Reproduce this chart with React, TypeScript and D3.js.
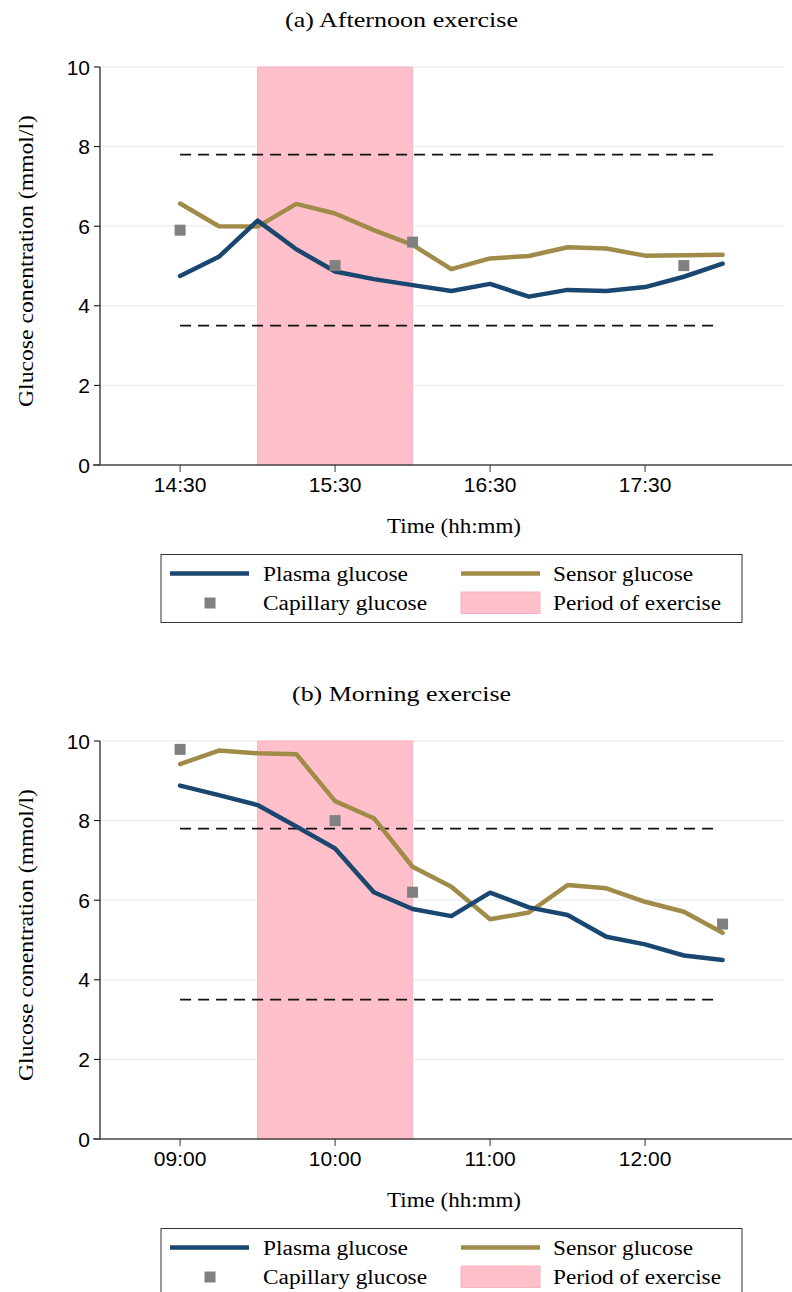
import React from "react";
import * as d3 from "d3";

// Axis ticks and target range (mmol/l)
const yTicks = [0, 2, 4, 6, 8, 10];
const targetLow = 3.5;
const targetHigh = 7.8;

// (a) Afternoon exercise
const afternoonTimes = ["14:30", "14:45", "15:00", "15:15", "15:30", "15:45", "16:00", "16:15", "16:30", "16:45", "17:00", "17:15", "17:30", "17:45", "18:00"];
const afternoonPlasma = [4.75, 5.23, 6.14, 5.42, 4.86, 4.67, 4.52, 4.37, 4.55, 4.23, 4.4, 4.37, 4.47, 4.73, 5.06];
const afternoonSensor = [6.57, 6.0, 5.99, 6.56, 6.32, 5.9, 5.53, 4.92, 5.19, 5.25, 5.47, 5.44, 5.26, 5.27, 5.28];
const afternoonCapTimes = ["14:30", "15:30", "16:00", "17:45"];
const afternoonCapillary = [5.9, 5.01, 5.6, 5.01];
const afternoonExercise = ["15:00", "16:00"];
const afternoonTickLabels = ["14:30", "15:30", "16:30", "17:30"];

// (b) Morning exercise
const morningTimes = ["09:00", "09:15", "09:30", "09:45", "10:00", "10:15", "10:30", "10:45", "11:00", "11:15", "11:30", "11:45", "12:00", "12:15", "12:30"];
const morningPlasma = [8.88, 8.64, 8.39, 7.85, 7.3, 6.2, 5.78, 5.6, 6.19, 5.82, 5.63, 5.08, 4.89, 4.61, 4.5];
const morningSensor = [9.42, 9.76, 9.69, 9.67, 8.49, 8.06, 6.84, 6.34, 5.52, 5.69, 6.38, 6.3, 5.96, 5.71, 5.18];
const morningCapTimes = ["09:00", "10:00", "10:30", "12:30"];
const morningCapillary = [9.79, 8.0, 6.2, 5.4];
const morningExercise = ["09:30", "10:30"];
const morningTickLabels = ["09:00", "10:00", "11:00", "12:00"];

const PLASMA = "#1a476f";
const SENSOR = "#a08b48";
const CAPILLARY = "#808080";
const EXERCISE = "#ffc0cb";
const EXERCISE_EDGE = "#f7b3bf";
const GRID = "#e9eff2";
const SERIF = "'Liberation Serif', 'Times New Roman', serif";
const SANS = "'Liberation Sans', Arial, sans-serif";

const toMinutes = (s: string) => {
  const [h, m] = s.split(":").map(Number);
  return h * 60 + m;
};

// plot frame
const left = 100;
const right = 792;
const top = 67;
const bottom = 465;
const pxPerMinute = 155 / 60;

type PanelProps = {
  offsetY: number;
  title: string;
  titleWidth: number;
  times: string[];
  plasma: number[];
  sensor: number[];
  capTimes: string[];
  capillary: number[];
  exercise: string[];
  tickLabels: string[];
};

function Legend({ y }: { y: number }) {
  return (
    <g transform={`translate(0,${y})`}>
      <rect x={161} y={554.5} width={581} height={68} fill="#fff" stroke="#333" strokeWidth={1} />
      <line x1={170} x2={249} y1={573.5} y2={573.5} stroke={PLASMA} strokeWidth={4.5} />
      <text x={263} y={581} fontFamily={SERIF} fontSize={20.5} textLength={145} lengthAdjust="spacingAndGlyphs">Plasma glucose</text>
      <line x1={461} x2={540} y1={573.5} y2={573.5} stroke={SENSOR} strokeWidth={4.5} />
      <text x={553} y={581} fontFamily={SERIF} fontSize={20.5} textLength={140} lengthAdjust="spacingAndGlyphs">Sensor glucose</text>
      <rect x={204.5} y={597.5} width={11} height={11} fill={CAPILLARY} />
      <text x={263} y={610} fontFamily={SERIF} fontSize={20.5} textLength={164} lengthAdjust="spacingAndGlyphs">Capillary glucose</text>
      <rect x={461} y={592} width={79} height={21.5} fill={EXERCISE} stroke={EXERCISE_EDGE} strokeWidth={1} />
      <text x={553} y={610} fontFamily={SERIF} fontSize={20.5} textLength={168} lengthAdjust="spacingAndGlyphs">Period of exercise</text>
    </g>
  );
}

function Panel(p: PanelProps) {
  const t0 = toMinutes(p.tickLabels[0]) - 31;
  const x = d3.scaleLinear().domain([t0, t0 + (right - left) / pxPerMinute]).range([left, right]);
  const y = d3.scaleLinear().domain([0, 10]).range([bottom, top]);
  const line = d3
    .line<[string, number]>()
    .x((d) => x(toMinutes(d[0])))
    .y((d) => y(d[1]));
  const plasmaPath = line(p.times.map((t, i) => [t, p.plasma[i]]));
  const sensorPath = line(p.times.map((t, i) => [t, p.sensor[i]]));
  const xFirst = x(toMinutes(p.times[0]));
  const xLast = x(toMinutes(p.times[p.times.length - 1]));
  const ex0 = x(toMinutes(p.exercise[0]));
  const ex1 = x(toMinutes(p.exercise[1]));

  return (
    <g transform={`translate(0,${p.offsetY})`}>
      <text x={401.5} y={26.7} textAnchor="middle" fontFamily={SERIF} fontSize={21} textLength={p.titleWidth} lengthAdjust="spacingAndGlyphs">
        {p.title}
      </text>

      {yTicks.filter((v) => v > 0).map((v) => (
        <line key={v} x1={left} x2={784} y1={y(v)} y2={y(v)} stroke={GRID} strokeWidth={1.3} />
      ))}

      <rect x={ex0} y={y(10)} width={ex1 - ex0} height={y(0) - y(10)} fill={EXERCISE} stroke={EXERCISE_EDGE} strokeWidth={1} />

      {[targetHigh, targetLow].map((v) => (
        <line key={v} x1={xFirst} x2={xLast - 3} y1={y(v)} y2={y(v)} stroke="#111" strokeWidth={1.8} strokeDasharray="11 7" />
      ))}

      <path d={sensorPath ?? ""} fill="none" stroke={SENSOR} strokeWidth={4.5} strokeLinejoin="round" strokeLinecap="round" />
      <path d={plasmaPath ?? ""} fill="none" stroke={PLASMA} strokeWidth={4.5} strokeLinejoin="round" strokeLinecap="round" />

      {p.capTimes.map((t, i) => (
        <rect key={t} x={x(toMinutes(t)) - 5.5} y={y(p.capillary[i]) - 5.5} width={11} height={11} fill={CAPILLARY} />
      ))}

      {/* y axis */}
      <line x1={left} x2={left} y1={top} y2={bottom} stroke="#000" strokeWidth={1.1} />
      {yTicks.map((v) => (
        <g key={v}>
          <line x1={left - 6} x2={left} y1={y(v)} y2={y(v)} stroke="#000" strokeWidth={1} />
          <text x={90} y={y(v)} dy="0.36em" textAnchor="end" fontFamily={SANS} fontSize={21}>
            {v}
          </text>
        </g>
      ))}

      {/* x axis */}
      <line x1={93} x2={right} y1={bottom} y2={bottom} stroke="#444" strokeWidth={1.3} />
      {p.tickLabels.map((t) => (
        <g key={t}>
          <line x1={x(toMinutes(t))} x2={x(toMinutes(t))} y1={bottom} y2={bottom + 7} stroke="#333" strokeWidth={1} />
          <text x={x(toMinutes(t))} y={492} textAnchor="middle" fontFamily={SANS} fontSize={21}>
            {t}
          </text>
        </g>
      ))}

      <text x={454} y={533} textAnchor="middle" fontFamily={SERIF} fontSize={20.5} textLength={134} lengthAdjust="spacingAndGlyphs">
        Time (hh:mm)
      </text>
      <text
        transform={`translate(33,261) rotate(-90)`}
        textAnchor="middle"
        fontFamily={SERIF}
        fontSize={20.5}
        textLength={292}
        lengthAdjust="spacingAndGlyphs"
      >
        Glucose conentration (mmol/l)
      </text>

      <Legend y={0} />
    </g>
  );
}

export default function App() {
  return (
    <svg
      width={792}
      height={1292}
      viewBox="0 0 792 1292"
      style={{ position: "absolute", left: 0, top: 0, background: "#fff" }}
    >
      <rect width={792} height={1292} fill="#fff" />
      <Panel
        offsetY={0}
        title="(a) Afternoon exercise"
        titleWidth={233}
        times={afternoonTimes}
        plasma={afternoonPlasma}
        sensor={afternoonSensor}
        capTimes={afternoonCapTimes}
        capillary={afternoonCapillary}
        exercise={afternoonExercise}
        tickLabels={afternoonTickLabels}
      />
      <Panel
        offsetY={674}
        title="(b) Morning exercise"
        titleWidth={219}
        times={morningTimes}
        plasma={morningPlasma}
        sensor={morningSensor}
        capTimes={morningCapTimes}
        capillary={morningCapillary}
        exercise={morningExercise}
        tickLabels={morningTickLabels}
      />
    </svg>
  );
}
